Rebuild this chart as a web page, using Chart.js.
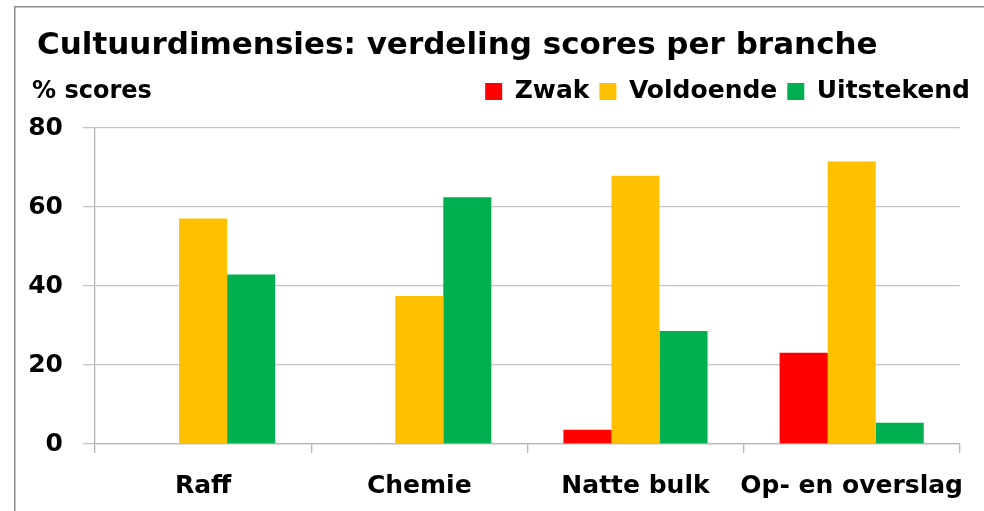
<!DOCTYPE html>
<html>
<head>
<meta charset="utf-8">
<script src="https://cdn.jsdelivr.net/npm/chart.js@4.4.1/dist/chart.umd.min.js"></script>
<style>
  html, body { margin: 0; padding: 0; background: #fff; overflow: hidden; }
  #wrap { width: 984px; height: 511px; position: relative; overflow: hidden; }
  canvas { display: block; }
</style>
</head>
<body>
<div id="wrap"><canvas id="c" width="984" height="511"></canvas></div>
<script>
const categories = ["Raff", "Chemie", "Natte bulk", "Op- en overslag"];
const seriesNames = ["Zwak", "Voldoende", "Uitstekend"];
const zwak = [0, 0, 3.6, 23.1];
const voldoende = [57.1, 37.5, 67.9, 71.5];
const uitstekend = [42.9, 62.5, 28.6, 5.4];
const yTicks = [0, 20, 40, 60, 80];
const titleText = "Cultuurdimensies: verdeling scores per branche";
const yLabel = "% scores";

const FONT = "'DejaVu Sans'";

const framePlugin = {
  id: 'frame',
  beforeLayout(chart) {
    const lg = chart.legend;
    if (lg && !lg._patched) {
      const f = lg.fit.bind(lg);
      lg.fit = function () { f(); this.height += 14; };
      lg._patched = true;
    }
  },
  beforeDraw(chart) {
    const ctx = chart.ctx;
    ctx.save();
    ctx.fillStyle = '#fff';
    ctx.fillRect(0, 0, chart.width, chart.height);
    ctx.fillStyle = '#8c8c8c';
    ctx.fillRect(14, 6, 1.5, chart.height - 6);
    ctx.fillRect(14, 6, chart.width - 14, 1.5);
    ctx.restore();
  },
  afterDraw(chart) {
    const ctx = chart.ctx;
    const lg = chart.legend;
    ctx.save();
    ctx.fillStyle = '#000';
    ctx.textBaseline = 'middle';
    ctx.textAlign = 'left';
    ctx.font = "bold 31px " + FONT;
    ctx.fillText(titleText, 37, 46);
    ctx.font = "bold 24px " + FONT;
    const hb = lg.legendHitBoxes && lg.legendHitBoxes[0];
    const y = hb ? hb.top + hb.height / 2 : 93;
    ctx.fillText(yLabel, 32, y);
    ctx.restore();
  }
};

new Chart(document.getElementById('c'), {
  type: 'bar',
  data: {
    labels: categories,
    datasets: [
      { label: seriesNames[0], data: zwak, backgroundColor: '#FF0000' },
      { label: seriesNames[1], data: voldoende, backgroundColor: '#FFC000' },
      { label: seriesNames[2], data: uitstekend, backgroundColor: '#00B050' }
    ]
  },
  options: {
    responsive: false,
    animation: false,
    layout: { padding: { left: 14, right: 4, top: 69, bottom: 0 } },
    datasets: { bar: { categoryPercentage: 3 / 4.5, barPercentage: 1, borderWidth: 0 } },
    plugins: {
      title: { display: false },
      legend: {
        position: 'top',
        align: 'end',
        labels: {
          color: '#000',
          boxWidth: 17,
          boxHeight: 17,
          padding: 10,
          font: { family: FONT, size: 25, weight: 'bold' }
        }
      },
      tooltip: { enabled: false }
    },
    scales: {
      x: {
        offset: true,
        grid: { display: true, offset: true, drawOnChartArea: false, drawTicks: true, tickLength: 9, color: '#b5b5b5', lineWidth: 1.3 },
        border: { display: true, color: '#b5b5b5', width: 1.3 },
        ticks: { color: '#000', padding: 18, maxRotation: 0, minRotation: 0, autoSkip: false, font: { family: FONT, size: 25, weight: 'bold' } },
        afterFit(scale) { scale.height = 67; }
      },
      y: {
        min: 0, max: 80,
        afterBuildTicks(scale) { scale.ticks = yTicks.map(v => ({ value: v })); },
        grid: { color: '#c4c4c4', lineWidth: 1.3, tickLength: 12, drawTicks: true },
        border: { display: true, color: '#b5b5b5', width: 1.3 },
        ticks: { color: '#000', padding: 20, font: { family: FONT, size: 25, weight: 'bold' } },
        afterFit(scale) { scale.width = 81; }
      },
      yr: {
        position: 'right',
        display: true,
        grid: { display: false, drawTicks: false },
        border: { display: false },
        ticks: { display: false },
        afterFit(scale) { scale.width = 20; }
      }
    }
  },
  plugins: [framePlugin]
});
</script>
</body>
</html>
